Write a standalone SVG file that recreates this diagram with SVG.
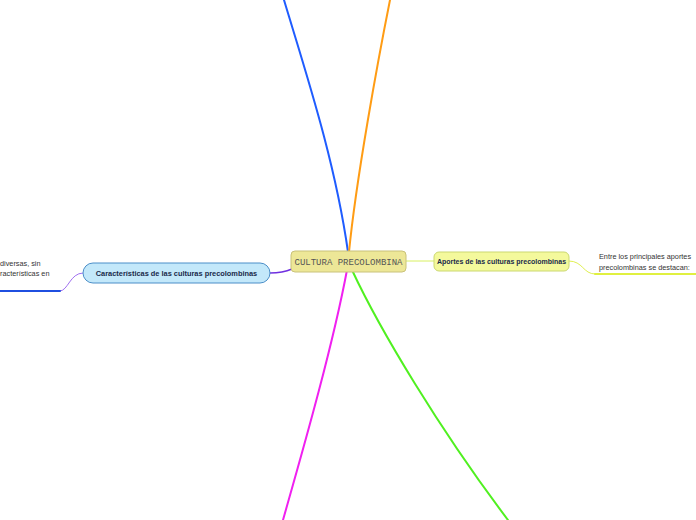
<svg xmlns="http://www.w3.org/2000/svg" width="696" height="520" viewBox="0 0 696 520">
<style>
.c{fill:none;stroke-linecap:round}
.lbl{font-family:"Liberation Sans",Arial,sans-serif;font-size:7px;font-weight:bold;fill:#1a2a4a}
.note{font-family:"Liberation Sans",Arial,sans-serif;font-size:7.3px;fill:#333}
</style>
<rect width="696" height="520" fill="#fff"/>
<g id="connectors">
<path class="c" d="M284,0 C305,70 335,160 348,252" stroke="#1f5cff" stroke-width="2"/>
<path class="c" d="M390,0 C378,60 356,180 349,252" stroke="#ff9c14" stroke-width="2"/>
<path class="c" d="M347,270 C332,350 300,460 283,520" stroke="#f020f0" stroke-width="2"/>
<path class="c" d="M352,270 C380,330 440,430 508,520" stroke="#50f020" stroke-width="2"/>
<path class="c" d="M292,269 C285,272 278,273 270,273" stroke="#7030e0" stroke-width="1.5"/>
<path class="c" d="M406,261 L434,261" stroke="#d8f060" stroke-width="1"/>
<path class="c" d="M83,273 C70,273 68,291 60,291" stroke="#a070f0" stroke-width="1"/>
<path class="c" d="M0,291 L60,291" stroke="#1f4fe0" stroke-width="2"/>
<path class="c" d="M569,261 C583,261 583,274 595,274" stroke="#e0f050" stroke-width="1"/>
<path class="c" d="M595,274 L696,274" stroke="#e0f040" stroke-width="2"/>
</g>
<g id="central">
<rect x="291" y="251" width="115" height="21" rx="4" fill="#ede797" stroke="#c9c27a" stroke-width="1"/>
<text x="348.5" y="264.5" text-anchor="middle" font-family="'Liberation Mono','Courier New',monospace" font-size="9" fill="#555">CULTURA PRECOLOMBINA</text>
</g>
<g id="caracteristicas">
<rect x="83" y="263" width="187" height="20" rx="10" fill="#c3e8fa" stroke="#4a8ec8" stroke-width="1"/>
<text class="lbl" x="176.5" y="275.5" text-anchor="middle" font-size="7.4" style="font-size:7.4px">Características de las culturas precolombinas</text>
</g>
<g id="aportes">
<rect x="434" y="252" width="135" height="19" rx="5" fill="#f4f99c" stroke="#cbd870" stroke-width="1"/>
<text class="lbl" x="501.5" y="264" text-anchor="middle">Aportes de las culturas precolombinas</text>
</g>
<g id="nota-izq">
<text class="note" x="0" y="266">diversas, sin</text>
<text class="note" x="0" y="276">racterísticas en</text>
</g>
<g id="nota-der">
<text class="note" x="599" y="259">Entre los principales aportes</text>
<text class="note" x="599" y="270">precolombinas se destacan:</text>
</g>
</svg>
